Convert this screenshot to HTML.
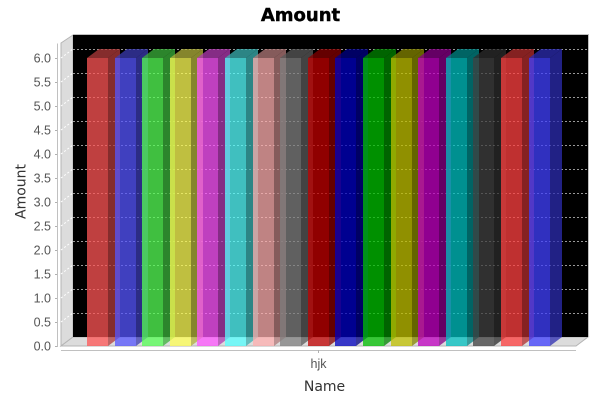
<!DOCTYPE html>
<html>
<head>
<meta charset="utf-8">
<title>Amount</title>
<style>
html,body{margin:0;padding:0;background:#fff;width:600px;height:400px;overflow:hidden}
svg{display:block}
text{font-family:"DejaVu Sans","Liberation Sans",sans-serif}
text.tick{font-family:"Liberation Sans","DejaVu Sans",sans-serif}
</style>
</head>
<body>
<svg id="chart" xmlns="http://www.w3.org/2000/svg" width="600" height="400" viewBox="0 0 600 400">
  <rect x="0" y="0" width="600" height="400" fill="#ffffff"/>
  <text x="300.5" y="21" font-size="18" font-weight="bold" text-anchor="middle" fill="#000" stroke="#000" stroke-width="0.4">Amount</text>
  <polygon points="61,43 73,35 73,337 61,346" fill="#dcdcdc" stroke="#b4b4b4" stroke-width="1"/>
  <polygon points="61,346 73,337 588,337 576,346" fill="#dcdcdc" stroke="#b4b4b4" stroke-width="1"/>
  <rect x="73" y="35" width="515" height="302" fill="#000000"/>
  <path d="M73 34.5H588.5V337" fill="none" stroke="#c0c0c0" stroke-width="1"/>
  <g id="grid"></g>
  <g id="bars"></g>
  <g id="axes"></g>
  <text x="324.5" y="391" font-size="14" text-anchor="middle" fill="#333">Name</text>
  <text transform="translate(25.5,191.5) rotate(-90)" font-size="14" text-anchor="middle" fill="#333">Amount</text>
</svg>
<script>
const categories = ['hjk'];
const seriesValues = [6, 6, 6, 6, 6, 6, 6, 6, 6, 6, 6, 6, 6, 6, 6, 6, 6];
const seriesColors = ['#ff5555', '#5555ff', '#55ff55', '#ffff55', '#ff55ff', '#55ffff', '#ffafaf', '#808080', '#c00000', '#0000c0', '#00c000', '#c0c000', '#c000c0', '#00c0c0', '#404040', '#ff4040', '#4040ff'];
const yTickLabels = ['0.0', '0.5', '1.0', '1.5', '2.0', '2.5', '3.0', '3.5', '4.0', '4.5', '5.0', '5.5', '6.0'];

const NS = 'http://www.w3.org/2000/svg';
const yBase = 346;
const yPerUnit = 48;
const depthX = 12;
const depthY = 9;
const barStart = 87;
const barStep = 27.6;
const barWidth = 21;

function yScale(v) { return yBase - v * yPerUnit; }
function xScale(i) { return Math.round(barStart + i * barStep); }
function darker(hex) {
  const n = parseInt(hex.slice(1), 16);
  const r = Math.floor((n >> 16 & 255) * 0.7);
  const g = Math.floor((n >> 8 & 255) * 0.7);
  const b = Math.floor((n & 255) * 0.7);
  return 'rgb(' + r + ',' + g + ',' + b + ')';
}
function make(tag, attrs, parent) {
  const el = document.createElementNS(NS, tag);
  for (const k in attrs) el.setAttribute(k, attrs[k]);
  parent.appendChild(el);
  return el;
}

const grid = document.getElementById('grid');
const bars = document.getElementById('bars');
const axes = document.getElementById('axes');

yTickLabels.forEach(function (label) {
  const v = parseFloat(label);
  const y = Math.round(yScale(v));
  if (v > 0) {
    const back = make('line', {x1: 73, x2: 588, y1: y - depthY + 0.5, y2: y - depthY + 0.5, stroke: '#ffffff', 'stroke-opacity': 0.6, 'stroke-width': 1, 'stroke-dasharray': '2 2', 'shape-rendering': 'crispEdges'}, grid);
    
    
    const side = make('line', {x1: 61, x2: 73, y1: y, y2: y - depthY, stroke: '#ffffff', 'stroke-width': 1, 'stroke-dasharray': '2 2'}, grid);
    
    
  }
  const tick = make('line', {x1: 55, x2: 58, y1: y + 0.5, y2: y + 0.5, stroke: '#b0b0b0', 'stroke-width': 1, 'shape-rendering': 'crispEdges'}, axes);
  
  
  const text = make('text', {class: 'tick', x: 51, y: y + 4.5, 'font-size': 12.5, 'text-anchor': 'end', fill: '#555555'}, axes);
  text.textContent = label;
  
  
});

seriesValues.forEach(function (value, i) {
  const x = xScale(i);
  const top = yScale(value);
  const bottom = yScale(0);
  const color = seriesColors[i % seriesColors.length];
  const dark = darker(color);
  const g = make('g', {'fill-opacity': 0.75}, bars);
  
  
  const sidePts = [[x + barWidth, top], [x + barWidth + depthX, top - depthY], [x + barWidth + depthX, bottom - depthY], [x + barWidth, bottom]];
  const sideFace = make('polygon', {points: sidePts.map(String).join(' '), fill: dark}, g);
  
  
  const topPts = [[x, top], [x + depthX, top - depthY], [x + barWidth + depthX, top - depthY], [x + barWidth, top]];
  const topFace = make('polygon', {points: topPts.map(String).join(' '), fill: dark}, g);
  
  
  const front = make('rect', {x: x, y: top, width: barWidth, height: bottom - top, fill: color, 'shape-rendering': 'crispEdges'}, g);
  
  
});

const yLine = make('line', {x1: 57.5, x2: 57.5, y1: yScale(6.3), y2: yBase + 1, stroke: '#c0c0c0', 'stroke-width': 1, 'shape-rendering': 'crispEdges'}, axes);



const xLine = make('line', {x1: 61, x2: 576, y1: 350.5, y2: 350.5, stroke: '#c0c0c0', 'stroke-width': 1, 'shape-rendering': 'crispEdges'}, axes);



categories.forEach(function (name) {
  const xTick = make('line', {x1: 318.5, x2: 318.5, y1: 350, y2: 353, stroke: '#b0b0b0', 'stroke-width': 1, 'shape-rendering': 'crispEdges'}, axes);
  
  
  const label = make('text', {class: 'tick', x: 318.5, y: 368, 'font-size': 12.5, 'text-anchor': 'middle', fill: '#555555'}, axes);
  label.textContent = name;
  
  
});
</script>
</body>
</html>
